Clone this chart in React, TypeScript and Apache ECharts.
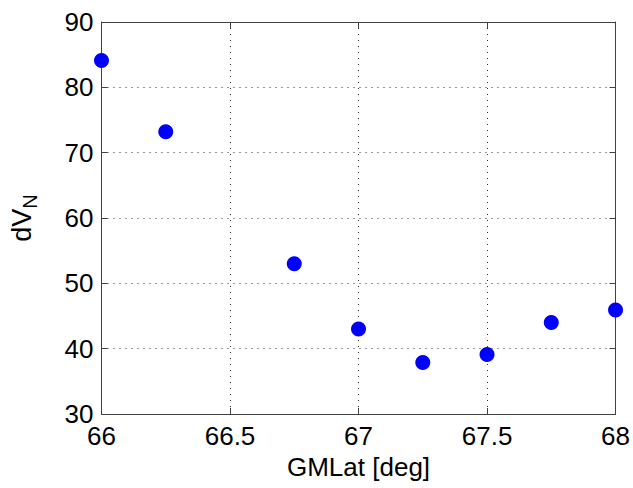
import React, { useEffect, useRef } from "react";
import * as echarts from "echarts";

const gmlat = [66, 66.25, 66.75, 67, 67.25, 67.5, 67.75, 68];
const dVN = [84.1, 73.2, 53.0, 43.0, 37.9, 39.1, 44.0, 45.9];
const xTicks = [66, 66.5, 67, 67.5, 68];
const yTicks = [30, 40, 50, 60, 70, 80, 90];

export default function App() {
  const ref = useRef<HTMLDivElement>(null);
  useEffect(() => {
    if (!ref.current) return;
    const chart = echarts.init(ref.current, undefined, { renderer: "svg" });
    const font = "Arial, 'Liberation Sans', sans-serif";
    const axisLine = { show: true, lineStyle: { color: "#404040", width: 1 } };
    const tick = { show: true, inside: true, length: 6, lineStyle: { color: "#404040" } };
    const split = { show: true, lineStyle: { color: "#333", type: [1, 5], width: 1 } };
    chart.setOption({
      animation: false,
      backgroundColor: "#fff",
      grid: { left: 101, top: 22, right: 17, bottom: 74, containLabel: false },
      xAxis: [
        {
          type: "value",
          min: xTicks[0],
          max: xTicks[xTicks.length - 1],
          interval: 0.5,
          name: "GMLat [deg]",
          nameLocation: "middle",
          nameGap: 36,
          nameTextStyle: { fontFamily: font, fontSize: 26, color: "#000", verticalAlign: "top" },
          axisLine,
          axisTick: tick,
          axisLabel: { fontFamily: font, fontSize: 26, color: "#000", margin: 9 },
          splitLine: split,
        },
        {
          type: "value",
          position: "top",
          min: xTicks[0],
          max: xTicks[xTicks.length - 1],
          interval: 0.5,
          axisLine,
          axisTick: tick,
          axisLabel: { show: false },
          splitLine: { show: false },
        },
      ],
      yAxis: [
        {
          type: "value",
          min: yTicks[0],
          max: yTicks[yTicks.length - 1],
          interval: 10,
          name: "{a|dV}{b|N}",
          nameLocation: "middle",
          nameGap: 62,
          nameRotate: 90,
          nameTextStyle: {
            fontFamily: font,
            color: "#000",
            rich: {
              a: { fontFamily: font, fontSize: 27, color: "#000" },
              b: { fontFamily: font, fontSize: 20, color: "#000", padding: [16, 0, 0, 0] },
            },
          },
          axisLine,
          axisTick: tick,
          axisLabel: { fontFamily: font, fontSize: 26, color: "#000", margin: 8 },
          splitLine: split,
        },
        {
          type: "value",
          position: "right",
          min: yTicks[0],
          max: yTicks[yTicks.length - 1],
          interval: 10,
          axisLine,
          axisTick: tick,
          axisLabel: { show: false },
          splitLine: { show: false },
        },
      ],
      series: [
        {
          type: "scatter",
          data: gmlat.map((x, i) => [x, dVN[i]]),
          symbol: "circle",
          symbolSize: 15,
          itemStyle: { color: "#0000ff", opacity: 1 },
          clip: false,
        },
      ],
    });
    return () => chart.dispose();
  }, []);
  return <div ref={ref} style={{ width: 633, height: 488, position: "absolute", left: 0, top: 0 }} />;
}
